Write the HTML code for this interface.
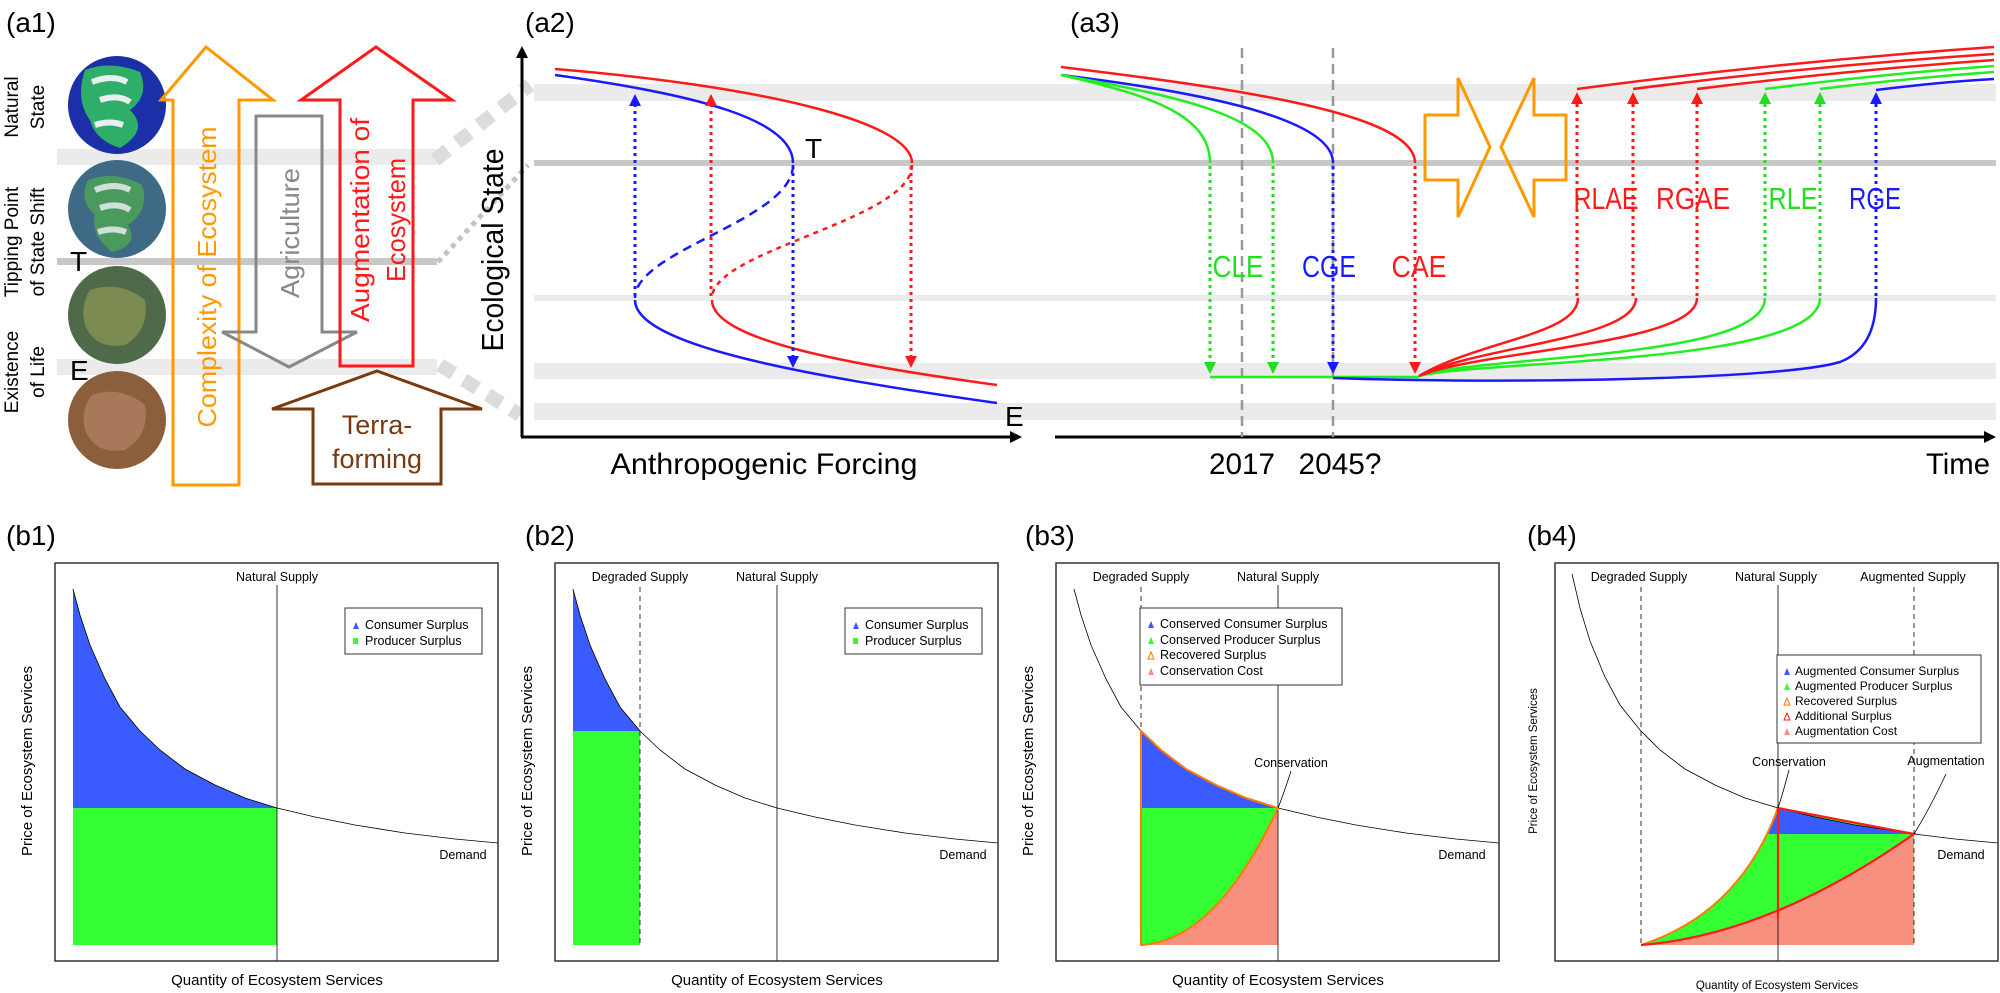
<!DOCTYPE html>
<html><head><meta charset="utf-8"><style>
html,body{margin:0;padding:0;background:#fff;}
svg{display:block;font-family:"Liberation Sans",sans-serif;}
</style></head><body>
<svg width="2000" height="993" viewBox="0 0 2000 993" xmlns="http://www.w3.org/2000/svg">
<defs>
<marker id="ab" viewBox="0 0 10 10" refX="5" refY="5" markerWidth="4" markerHeight="4" orient="auto-start-reverse"><path d="M0,0 L10,5 L0,10 z" fill="#1a1aff"/></marker>
<marker id="ar" viewBox="0 0 10 10" refX="5" refY="5" markerWidth="4" markerHeight="4" orient="auto-start-reverse"><path d="M0,0 L10,5 L0,10 z" fill="#ff1a1a"/></marker>
<marker id="ag" viewBox="0 0 10 10" refX="5" refY="5" markerWidth="4" markerHeight="4" orient="auto-start-reverse"><path d="M0,0 L10,5 L0,10 z" fill="#22dd22"/></marker>
<marker id="ak" viewBox="0 0 10 10" refX="5" refY="5" markerWidth="4" markerHeight="4" orient="auto-start-reverse"><path d="M0,0 L10,5 L0,10 z" fill="#000"/></marker>
</defs>

<!-- ===== a1 ===== -->
<text x="6" y="32" font-size="28">(a1)</text>
<rect x="57" y="149" width="380" height="16" fill="#ebebeb"/>
<rect x="57" y="258" width="380" height="7" fill="#c8c8c8"/>
<rect x="57" y="359" width="380" height="16" fill="#ebebeb"/>
<line x1="435" y1="160" x2="530" y2="85" stroke="#dcdcdc" stroke-width="14" stroke-dasharray="16 12"/>
<line x1="438" y1="262" x2="528" y2="165" stroke="#c4c4c4" stroke-width="5" stroke-dasharray="5 5"/>
<line x1="440" y1="365" x2="520" y2="415" stroke="#dcdcdc" stroke-width="14" stroke-dasharray="16 12"/>

<g transform="translate(18,107) rotate(-90)" font-size="19" text-anchor="middle"><text x="0" y="0">Natural</text><text x="0" y="26">State</text></g>
<g transform="translate(18,242) rotate(-90)" font-size="19" text-anchor="middle"><text x="0" y="0">Tipping Point</text><text x="0" y="26">of State Shift</text></g>
<g transform="translate(18,372) rotate(-90)" font-size="19" text-anchor="middle"><text x="0" y="0">Existence</text><text x="0" y="26">of Life</text></g>

<!-- planets -->
<circle cx="117" cy="105" r="49" fill="#1a2fa8"/>
<path d="M85,70 Q110,60 140,72 Q150,95 130,110 Q150,130 120,148 Q95,140 90,120 Q75,100 85,70Z" fill="#2fae6a"/>
<path d="M92,82 q20,-8 35,0 M100,100 q18,-6 30,2 M95,125 q15,-5 28,0" stroke="#e8f0f0" stroke-width="6" fill="none"/>
<circle cx="117" cy="209" r="49" fill="#3f6a86"/>
<path d="M88,180 Q115,170 142,185 Q150,210 128,225 Q140,245 112,252 Q90,235 95,215 Q78,200 88,180Z" fill="#4a9a5e"/>
<path d="M95,190 q20,-8 35,0 M100,208 q18,-6 30,2 M98,232 q15,-5 28,0" stroke="#cfe0da" stroke-width="6" fill="none"/>
<circle cx="117" cy="315" r="49" fill="#4e6a48"/>
<path d="M90,290 Q120,280 145,300 Q150,330 125,345 Q95,350 85,325 Q80,305 90,290Z" fill="#7b8b52"/>
<circle cx="117" cy="420" r="49" fill="#8b5e3c"/>
<path d="M92,395 Q120,385 145,405 Q150,435 125,450 Q95,455 85,430 Q80,410 92,395Z" fill="#a8785a"/>
<text x="70" y="271" font-size="28">T</text>
<text x="70" y="380" font-size="28">E</text>

<!-- arrows a1 -->
<path d="M173,485 L173,100 L161,100 L206,47 L273,100 L239,100 L239,485 Z" fill="none" stroke="#ff9900" stroke-width="3"/>
<path d="M256,116 L322,116 L322,332 L357,332 L289,367 L222,332 L256,332 Z" fill="none" stroke="#888" stroke-width="3"/>
<path d="M340,366 L340,100 L301,100 L376,47 L452,100 L413,100 L413,366 Z" fill="none" stroke="#ff1a1a" stroke-width="3"/>
<path d="M313,484 L313,409 L272,409 L377,371 L482,409 L441,409 L441,484 Z" fill="none" stroke="#7a3a10" stroke-width="3"/>
<text transform="translate(216,277) rotate(-90)" font-size="26" fill="#ff9900" text-anchor="middle" textLength="301" lengthAdjust="spacingAndGlyphs">Complexity of Ecosystem</text>
<text transform="translate(299,233) rotate(-90)" font-size="26" fill="#888" text-anchor="middle" textLength="130" lengthAdjust="spacingAndGlyphs">Agriculture</text>
<text transform="translate(369,220) rotate(-90)" font-size="26" fill="#ff1a1a" text-anchor="middle" textLength="204" lengthAdjust="spacingAndGlyphs">Augmentation of</text>
<text transform="translate(405,220) rotate(-90)" font-size="26" fill="#ff1a1a" text-anchor="middle" textLength="124" lengthAdjust="spacingAndGlyphs">Ecosystem</text>
<text x="377" y="434" font-size="27" fill="#7a3a10" text-anchor="middle">Terra-</text>
<text x="377" y="468" font-size="27" fill="#7a3a10" text-anchor="middle">forming</text>

<!-- bands a2/a3 -->
<rect x="534" y="84" width="1462" height="17" fill="#ebebeb"/>
<rect x="534" y="160" width="1462" height="6" fill="#c8c8c8"/>
<rect x="534" y="295" width="1462" height="6" fill="#ebebeb"/>
<rect x="534" y="363" width="1462" height="16" fill="#ebebeb"/>
<rect x="534" y="403" width="1462" height="17" fill="#ebebeb"/>

<!-- ===== a2 ===== -->
<text x="525" y="32" font-size="28">(a2)</text>
<line x1="522" y1="437" x2="522" y2="52" stroke="#000" stroke-width="3" marker-end="url(#ak)"/>
<line x1="521" y1="437" x2="1016" y2="437" stroke="#000" stroke-width="3" marker-end="url(#ak)"/>
<text transform="translate(503,250) rotate(-90)" font-size="31" text-anchor="middle" textLength="203" lengthAdjust="spacingAndGlyphs">Ecological State</text>
<text x="764" y="474" font-size="30" text-anchor="middle" textLength="307" lengthAdjust="spacingAndGlyphs">Anthropogenic Forcing</text>
<g fill="none" stroke-width="2.5">
<path d="M555,75 C700,95 793,120 793,163" stroke="#1a1aff"/>
<path d="M793,165 C793,220 635,250 635,298" stroke="#1a1aff" stroke-dasharray="9 6"/>
<path d="M635,300 C635,345 800,375 997,403" stroke="#1a1aff"/>
<path d="M555,69 C750,85 912,120 912,163" stroke="#ff1a1a"/>
<path d="M912,165 C912,220 712,250 712,298" stroke="#ff1a1a" stroke-dasharray="5 5"/>
<path d="M712,300 C712,340 850,365 997,385" stroke="#ff1a1a"/>
</g>
<g fill="none" stroke-width="3" stroke-dasharray="3 4">
<line x1="635" y1="296" x2="635" y2="100" stroke="#1a1aff" marker-end="url(#ab)"/>
<line x1="711" y1="296" x2="711" y2="100" stroke="#ff1a1a" marker-end="url(#ar)"/>
<line x1="793" y1="166" x2="793" y2="362" stroke="#1a1aff" marker-end="url(#ab)"/>
<line x1="911" y1="166" x2="911" y2="362" stroke="#ff1a1a" marker-end="url(#ar)"/>
</g>
<text x="805" y="158" font-size="28">T</text>
<text x="1005" y="426" font-size="28">E</text>

<!-- ===== a3 ===== -->
<text x="1070" y="32" font-size="28">(a3)</text>
<line x1="1055" y1="437" x2="1990" y2="437" stroke="#000" stroke-width="3" marker-end="url(#ak)"/>
<line x1="1242" y1="48" x2="1242" y2="437" stroke="#999" stroke-width="2.5" stroke-dasharray="10 6"/>
<line x1="1333" y1="48" x2="1333" y2="437" stroke="#999" stroke-width="2.5" stroke-dasharray="10 6"/>
<text x="1242" y="474" font-size="30" text-anchor="middle" textLength="66" lengthAdjust="spacingAndGlyphs">2017</text>
<text x="1340" y="474" font-size="30" text-anchor="middle" textLength="83" lengthAdjust="spacingAndGlyphs">2045?</text>
<text x="1990" y="474" font-size="30" text-anchor="end" textLength="64" lengthAdjust="spacingAndGlyphs">Time</text>
<g fill="none" stroke-width="2.5">
<path d="M1061,67 C1250,90 1415,115 1415,163" stroke="#ff1a1a"/>
<path d="M1061,75 C1200,92 1333,118 1333,163" stroke="#1a1aff"/>
<path d="M1061,75 C1150,95 1210,115 1210,163" stroke="#22ee22"/>
<path d="M1061,75 C1170,95 1273,115 1273,163" stroke="#22ee22"/>
<line x1="1210" y1="377" x2="1419" y2="377" stroke="#22ee22"/>
<path d="M1333,378 C1500,384 1780,380 1840,362 Q1876,348 1876,298" stroke="#1a1aff"/>
<path d="M1419,376 C1480,360 1820,365 1820,298" stroke="#22ee22"/>
<path d="M1419,376 C1480,355 1765,360 1765,298" stroke="#22ee22"/>
<path d="M1419,376 C1480,350 1697,345 1697,298" stroke="#ff1a1a"/>
<path d="M1419,376 C1480,345 1636,340 1636,298" stroke="#ff1a1a"/>
<path d="M1419,376 C1480,340 1578,335 1578,298" stroke="#ff1a1a"/>
<path d="M1577,89 Q1780,62 1994,47" stroke="#ff1a1a"/>
<path d="M1633,89 Q1810,66 1994,54" stroke="#ff1a1a"/>
<path d="M1697,89 Q1850,70 1994,60" stroke="#ff1a1a"/>
<path d="M1765,89 Q1880,74 1994,66" stroke="#22ee22"/>
<path d="M1820,89 Q1910,78 1994,72" stroke="#22ee22"/>
<path d="M1876,90 Q1940,82 1994,79" stroke="#1a1aff"/>
</g>
<g fill="none" stroke-width="3" stroke-dasharray="3 4">
<line x1="1210" y1="166" x2="1210" y2="368" stroke="#22dd22" marker-end="url(#ag)"/>
<line x1="1273" y1="166" x2="1273" y2="368" stroke="#22dd22" marker-end="url(#ag)"/>
<line x1="1333" y1="166" x2="1333" y2="368" stroke="#1a1aff" marker-end="url(#ab)"/>
<line x1="1415" y1="166" x2="1415" y2="368" stroke="#ff1a1a" marker-end="url(#ar)"/>
<line x1="1577" y1="296" x2="1577" y2="98" stroke="#ff1a1a" marker-end="url(#ar)"/>
<line x1="1633" y1="296" x2="1633" y2="98" stroke="#ff1a1a" marker-end="url(#ar)"/>
<line x1="1697" y1="296" x2="1697" y2="98" stroke="#ff1a1a" marker-end="url(#ar)"/>
<line x1="1765" y1="296" x2="1765" y2="98" stroke="#22dd22" marker-end="url(#ag)"/>
<line x1="1820" y1="296" x2="1820" y2="98" stroke="#22dd22" marker-end="url(#ag)"/>
<line x1="1876" y1="296" x2="1876" y2="98" stroke="#1a1aff" marker-end="url(#ab)"/>
</g>
<path d="M1425,115 L1458,115 L1458,78 L1490,147 L1458,217 L1458,180 L1425,180 Z" fill="none" stroke="#ff9900" stroke-width="3"/>
<path d="M1566,115 L1534,115 L1534,78 L1501,147 L1534,217 L1534,180 L1566,180 Z" fill="none" stroke="#ff9900" stroke-width="3"/>
<g font-size="31" text-anchor="middle">
<text x="1238" y="277" fill="#22dd22" textLength="51" lengthAdjust="spacingAndGlyphs">CLE</text>
<text x="1329" y="277" fill="#1a1aff" textLength="54" lengthAdjust="spacingAndGlyphs">CGE</text>
<text x="1419" y="277" fill="#ff1a1a" textLength="55" lengthAdjust="spacingAndGlyphs">CAE</text>
<text x="1606" y="209" fill="#ff1a1a" textLength="65" lengthAdjust="spacingAndGlyphs">RLAE</text>
<text x="1693" y="209" fill="#ff1a1a" textLength="74" lengthAdjust="spacingAndGlyphs">RGAE</text>
<text x="1793" y="209" fill="#22dd22" textLength="49" lengthAdjust="spacingAndGlyphs">RLE</text>
<text x="1875" y="209" fill="#1a1aff" textLength="52" lengthAdjust="spacingAndGlyphs">RGE</text>
</g>

<!-- ===== b panels ===== -->
<g font-size="28">
<text x="6" y="545">(b1)</text><text x="525" y="545">(b2)</text><text x="1025" y="545">(b3)</text><text x="1527" y="545">(b4)</text>
</g>

<!-- b1 -->
<g transform="translate(55,563)">
<polygon points="18,26 25,52 35,82 50,116 65,144 85,168 105,187 130,206 160,222 190,235 222,245 18,245" fill="#3a5cff"/>
<rect x="18" y="245" width="204" height="137" fill="#33ff33"/>
<polyline points="18,26 25,52 35,82 50,116 65,144 85,168 105,187 130,206 160,222 190,235 222,245 260,254 300,262 350,270 400,276 443,280" fill="none" stroke="#000" stroke-width="0.8"/>
<line x1="222" y1="22" x2="222" y2="398" stroke="#000" stroke-width="0.8"/>
<rect x="0" y="0" width="443" height="398" fill="none" stroke="#333" stroke-width="1.5"/>
<text x="222" y="18" font-size="12.5" text-anchor="middle">Natural Supply</text>
<rect x="290" y="45" width="137" height="46" fill="#fff" stroke="#333"/>
<polygon points="298,66 301,59 304,66" fill="#3a5cff"/><text x="310" y="66" font-size="12.5">Consumer Surplus</text>
<rect x="298" y="75" width="5" height="6" fill="#33ff33"/><text x="310" y="82" font-size="12.5">Producer Surplus</text>
<text x="408" y="296" font-size="12.5" text-anchor="middle">Demand</text>
<text x="222" y="422" font-size="15" text-anchor="middle">Quantity of Ecosystem Services</text>
<text transform="translate(-23,198) rotate(-90)" font-size="15" text-anchor="middle">Price of Ecosystem Services</text>
</g>

<!-- b2 -->
<g transform="translate(555,563)">
<polygon points="18,26 25,52 35,82 50,116 65,144 85,168 18,168" fill="#3a5cff"/>
<rect x="18" y="168" width="67" height="214" fill="#33ff33"/>
<polyline points="18,26 25,52 35,82 50,116 65,144 85,168 105,187 130,206 160,222 190,235 222,245 260,254 300,262 350,270 400,276 443,280" fill="none" stroke="#000" stroke-width="0.8"/>
<line x1="85" y1="24" x2="85" y2="382" stroke="#000" stroke-width="0.8" stroke-dasharray="5 4"/>
<line x1="222" y1="22" x2="222" y2="398" stroke="#000" stroke-width="0.8"/>
<rect x="0" y="0" width="443" height="398" fill="none" stroke="#333" stroke-width="1.5"/>
<text x="85" y="18" font-size="12.5" text-anchor="middle">Degraded Supply</text>
<text x="222" y="18" font-size="12.5" text-anchor="middle">Natural Supply</text>
<rect x="290" y="45" width="137" height="46" fill="#fff" stroke="#333"/>
<polygon points="298,66 301,59 304,66" fill="#3a5cff"/><text x="310" y="66" font-size="12.5">Consumer Surplus</text>
<rect x="298" y="75" width="5" height="6" fill="#33ff33"/><text x="310" y="82" font-size="12.5">Producer Surplus</text>
<text x="408" y="296" font-size="12.5" text-anchor="middle">Demand</text>
<text x="222" y="422" font-size="15" text-anchor="middle">Quantity of Ecosystem Services</text>
<text transform="translate(-23,198) rotate(-90)" font-size="15" text-anchor="middle">Price of Ecosystem Services</text>
</g>

<!-- b3 -->
<g transform="translate(1056,563)">
<polygon points="85,168 105,187 130,206 160,222 190,235 222,245 85,245" fill="#3a5cff"/>
<path d="M85,245 L222,245 Q160,378 85,382 Z" fill="#33ff33"/>
<path d="M85,382 Q160,378 222,245 L222,382 Z" fill="#f89080"/>
<polyline points="18,26 25,52 35,82 50,116 65,144 85,168 105,187 130,206 160,222 190,235 222,245 260,254 300,262 350,270 400,276 443,280" fill="none" stroke="#000" stroke-width="0.8"/>
<line x1="85" y1="24" x2="85" y2="168" stroke="#000" stroke-width="0.8" stroke-dasharray="5 4"/>
<line x1="222" y1="22" x2="222" y2="398" stroke="#000" stroke-width="0.8"/>
<path d="M85,168 L105,187 L130,206 L160,222 L190,235 L222,245 Q160,378 85,382 Z" fill="none" stroke="#ff7a00" stroke-width="2"/>
<path d="M235,208 Q228,230 222,245" fill="none" stroke="#000" stroke-width="0.8"/>
<rect x="0" y="0" width="443" height="398" fill="none" stroke="#333" stroke-width="1.5"/>
<text x="85" y="18" font-size="12.5" text-anchor="middle">Degraded Supply</text>
<text x="222" y="18" font-size="12.5" text-anchor="middle">Natural Supply</text>
<rect x="84" y="45" width="202" height="77" fill="#fff" stroke="#333"/>
<polygon points="92,65 95,58 98,65" fill="#3a5cff"/><text x="104" y="65" font-size="12.5">Conserved Consumer Surplus</text>
<polygon points="92,81 95,74 98,81" fill="#33ff33"/><text x="104" y="81" font-size="12.5">Conserved Producer Surplus</text>
<polygon points="92,96 95,89 98,96" fill="none" stroke="#ff7a00"/><text x="104" y="96" font-size="12.5">Recovered Surplus</text>
<polygon points="92,112 95,105 98,112" fill="#f89080"/><text x="104" y="112" font-size="12.5">Conservation Cost</text>
<text x="235" y="204" font-size="12.5" text-anchor="middle">Conservation</text>
<text x="406" y="296" font-size="12.5" text-anchor="middle">Demand</text>
<text x="222" y="422" font-size="15" text-anchor="middle">Quantity of Ecosystem Services</text>
<text transform="translate(-23,198) rotate(-90)" font-size="15" text-anchor="middle">Price of Ecosystem Services</text>
</g>

<!-- b4 -->
<g transform="translate(1555,563)">
<path d="M86,382 Q185,350 223,245 L359,271 Q215,372 86,382 Z" fill="#33ff33"/>
<polygon points="223,245 260,254 300,262 350,270 359,271 212,271" fill="#3a5cff"/>
<path d="M86,382 Q215,372 359,271 L359,382 Z" fill="#f89080"/>
<polyline points="17,11 25,45 35,78 50,114 65,142 85,167 105,187 130,206 160,222 190,235 223,245 260,254 300,262 359,271 400,276 443,280" fill="none" stroke="#000" stroke-width="0.8"/>
<line x1="86" y1="24" x2="86" y2="382" stroke="#000" stroke-width="0.8" stroke-dasharray="5 4"/>
<line x1="223" y1="22" x2="223" y2="398" stroke="#000" stroke-width="0.8"/>
<line x1="359" y1="24" x2="359" y2="382" stroke="#000" stroke-width="0.8" stroke-dasharray="5 4"/>
<path d="M86,382 Q185,350 223,245" fill="none" stroke="#ff7a00" stroke-width="2"/>
<path d="M86,382 Q215,372 359,271 L223,245 L223,356" fill="none" stroke="#ff1a1a" stroke-width="2.2"/>
<path d="M234,207 Q228,230 223,245" fill="none" stroke="#000" stroke-width="0.8"/>
<path d="M391,211 Q375,245 359,271" fill="none" stroke="#000" stroke-width="0.8"/>
<rect x="0" y="0" width="443" height="398" fill="none" stroke="#333" stroke-width="1.5"/>
<text x="84" y="18" font-size="12.5" text-anchor="middle">Degraded Supply</text>
<text x="221" y="18" font-size="12.5" text-anchor="middle">Natural Supply</text>
<text x="358" y="18" font-size="12.5" text-anchor="middle">Augmented Supply</text>
<rect x="222" y="92" width="204" height="88" fill="#fff" stroke="#333"/>
<polygon points="229,112 232,105 235,112" fill="#3a5cff"/><text x="240" y="112" font-size="12">Augmented Consumer Surplus</text>
<polygon points="229,127 232,120 235,127" fill="#33ff33"/><text x="240" y="127" font-size="12">Augmented Producer Surplus</text>
<polygon points="229,142 232,135 235,142" fill="none" stroke="#ff7a00"/><text x="240" y="142" font-size="12">Recovered Surplus</text>
<polygon points="229,157 232,150 235,157" fill="none" stroke="#ff1a1a"/><text x="240" y="157" font-size="12">Additional Surplus</text>
<polygon points="229,172 232,165 235,172" fill="#f89080"/><text x="240" y="172" font-size="12">Augmentation Cost</text>
<text x="234" y="203" font-size="12.5" text-anchor="middle">Conservation</text>
<text x="391" y="202" font-size="12.5" text-anchor="middle">Augmentation</text>
<text x="406" y="296" font-size="12.5" text-anchor="middle">Demand</text>
<text x="222" y="426" font-size="11.5" text-anchor="middle">Quantity of Ecosystem Services</text>
<text transform="translate(-18,198) rotate(-90)" font-size="11.5" text-anchor="middle">Price of Ecosystem Services</text>
</g>
</svg>
</body></html>
